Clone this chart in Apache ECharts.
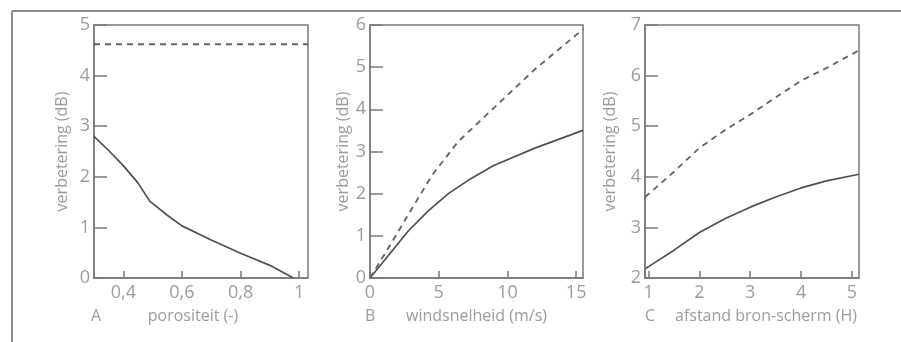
<!DOCTYPE html>
<html><head><meta charset="utf-8">
<script src="https://cdn.jsdelivr.net/npm/echarts@6/dist/echarts.min.js"></script>
<style>html,body{margin:0;padding:0;background:#fff}#c{width:901px;height:342px}</style>
</head><body><div id="c"></div>
<script>
// ---- data ----
const panelLetters = ['A', 'B', 'C'];
const xAxisNames = ['porositeit (-)', 'windsnelheid (m/s)', 'afstand bron-scherm (H)'];
const yAxisName = 'verbetering (dB)';

const xTicksA = [0.4, 0.6, 0.8, 1];
const xTicksB = [0, 5, 10, 15];
const xTicksC = [1, 2, 3, 4, 5];

// Panel A: porositeit
const aSolidX = [0.3, 0.35, 0.4, 0.45, 0.49, 0.55, 0.6, 0.7, 0.8, 0.9, 0.98];
const aSolidY = [2.8, 2.52, 2.22, 1.88, 1.52, 1.24, 1.03, 0.75, 0.49, 0.25, 0];
const aDashX = [0.3, 1.03];
const aDashY = [4.62, 4.62];

// Panel B: windsnelheid
const bSolidX = [0, 1.5, 2.8, 4.2, 5.7, 7.3, 9, 12, 15.5];
const bSolidY = [0, 0.6, 1.12, 1.58, 2.0, 2.35, 2.67, 3.08, 3.5];
const bDashX = [0, 1.5, 3, 4.5, 6.4, 9, 12, 15.5];
const bDashY = [0, 0.8, 1.62, 2.43, 3.23, 4.03, 4.95, 5.9];

// Panel C: afstand bron-scherm
const cSolidX = [0.93, 1.5, 2, 2.5, 3, 3.5, 4, 4.5, 5.14];
const cSolidY = [2.18, 2.55, 2.9, 3.17, 3.4, 3.6, 3.78, 3.92, 4.05];
const cDashX = [0.93, 1.5, 2, 2.5, 3, 3.5, 4, 4.5, 5.14];
const cDashY = [3.6, 4.1, 4.57, 4.92, 5.23, 5.57, 5.9, 6.15, 6.5];

// ---- styling ----
const FRAME = '#7a7a7a';
const TEXT = '#9c9c9c';
const CURVE = '#505050';
const FONT = '"Open Sans", "DejaVu Sans", sans-serif';

const grids = [
  {left: 94, top: 25, width: 214, height: 253},
  {left: 370, top: 25, width: 213, height: 253},
  {left: 645, top: 25, width: 214, height: 253}
];
const xRanges = [[0.3, 1.03], [0, 15.5], [0.93, 5.14]];
const yRanges = [[0, 5], [0, 6], [2, 7]];
const xTicks = [xTicksA, xTicksB, xTicksC];
const xNamePad = [[0, 16, 0, 0], [0, 0, 0, 0], [0, 0, 0, 28]];
const yNameGap = [24, 19, 27];

const pairs = (xs, ys) => xs.map((x, i) => [x, ys[i]]);
const fmt = v => String(Math.round(v * 100) / 100).replace('.', ',');

const option = {
  animation: false,
  backgroundColor: '#fff',
  grid: grids.map(g => Object.assign({show: true, borderColor: FRAME, borderWidth: 1.5, containLabel: false}, g)),
  xAxis: grids.map((g, i) => ({
    type: 'value', gridIndex: i, min: xRanges[i][0], max: xRanges[i][1],
    splitLine: {show: false},
    axisLine: {show: true, lineStyle: {color: FRAME, width: 1.5}},
    axisTick: {show: true, inside: true, length: 7, customValues: xTicks[i], lineStyle: {color: FRAME, width: 1.5}},
    axisLabel: {show: true, customValues: xTicks[i], margin: 6, color: TEXT, fontSize: 18, fontFamily: FONT, formatter: fmt},
    name: xAxisNames[i], nameLocation: 'middle', nameGap: 30,
    nameTextStyle: {color: TEXT, fontSize: 16, fontFamily: FONT, padding: xNamePad[i]}
  })),
  yAxis: grids.map((g, i) => ({
    type: 'value', gridIndex: i, min: yRanges[i][0], max: yRanges[i][1], interval: 1,
    splitLine: {show: false},
    axisLine: {show: true, lineStyle: {color: FRAME, width: 1.5}},
    axisTick: {show: true, inside: true, length: 13, lineStyle: {color: FRAME, width: 1.5}},
    axisLabel: {show: true, margin: 4, color: TEXT, fontSize: 18, fontFamily: FONT},
    name: yAxisName, nameLocation: 'middle', nameRotate: 90, nameGap: yNameGap[i],
    nameTextStyle: {color: TEXT, fontSize: 16, fontFamily: FONT}
  })),
  series: [
    [aSolidX, aSolidY, 0, 'solid'], [aDashX, aDashY, 0, 'dash'],
    [bSolidX, bSolidY, 1, 'solid'], [bDashX, bDashY, 1, 'dash'],
    [cSolidX, cSolidY, 2, 'solid'], [cDashX, cDashY, 2, 'dash']
  ].map(([xs, ys, gi, kind]) => ({
    type: 'line', xAxisIndex: gi, yAxisIndex: gi, data: pairs(xs, ys),
    showSymbol: false, symbol: 'none', smooth: false, silent: true,
    lineStyle: kind === 'solid'
      ? {color: CURVE, width: 1.7, type: 'solid'}
      : {color: '#626262', width: 1.8, type: [6, 5]}
  })),
  graphic: [
    {type: 'line', shape: {x1: 12, y1: 11, x2: 12, y2: 342}, style: {stroke: '#8c8c8c', lineWidth: 2}},
    {type: 'line', shape: {x1: 12, y1: 11, x2: 901, y2: 11}, style: {stroke: '#8c8c8c', lineWidth: 2}}
  ].concat(panelLetters.map((t, i) => ({
    type: 'text', left: [91, 365, 645][i], top: 308,
    style: {text: t, fill: TEXT, font: '16px ' + FONT}
  })))
};

const chart = echarts.init(document.getElementById('c'), null, {renderer: 'canvas'});
chart.setOption(option);
</script>
</body></html>
